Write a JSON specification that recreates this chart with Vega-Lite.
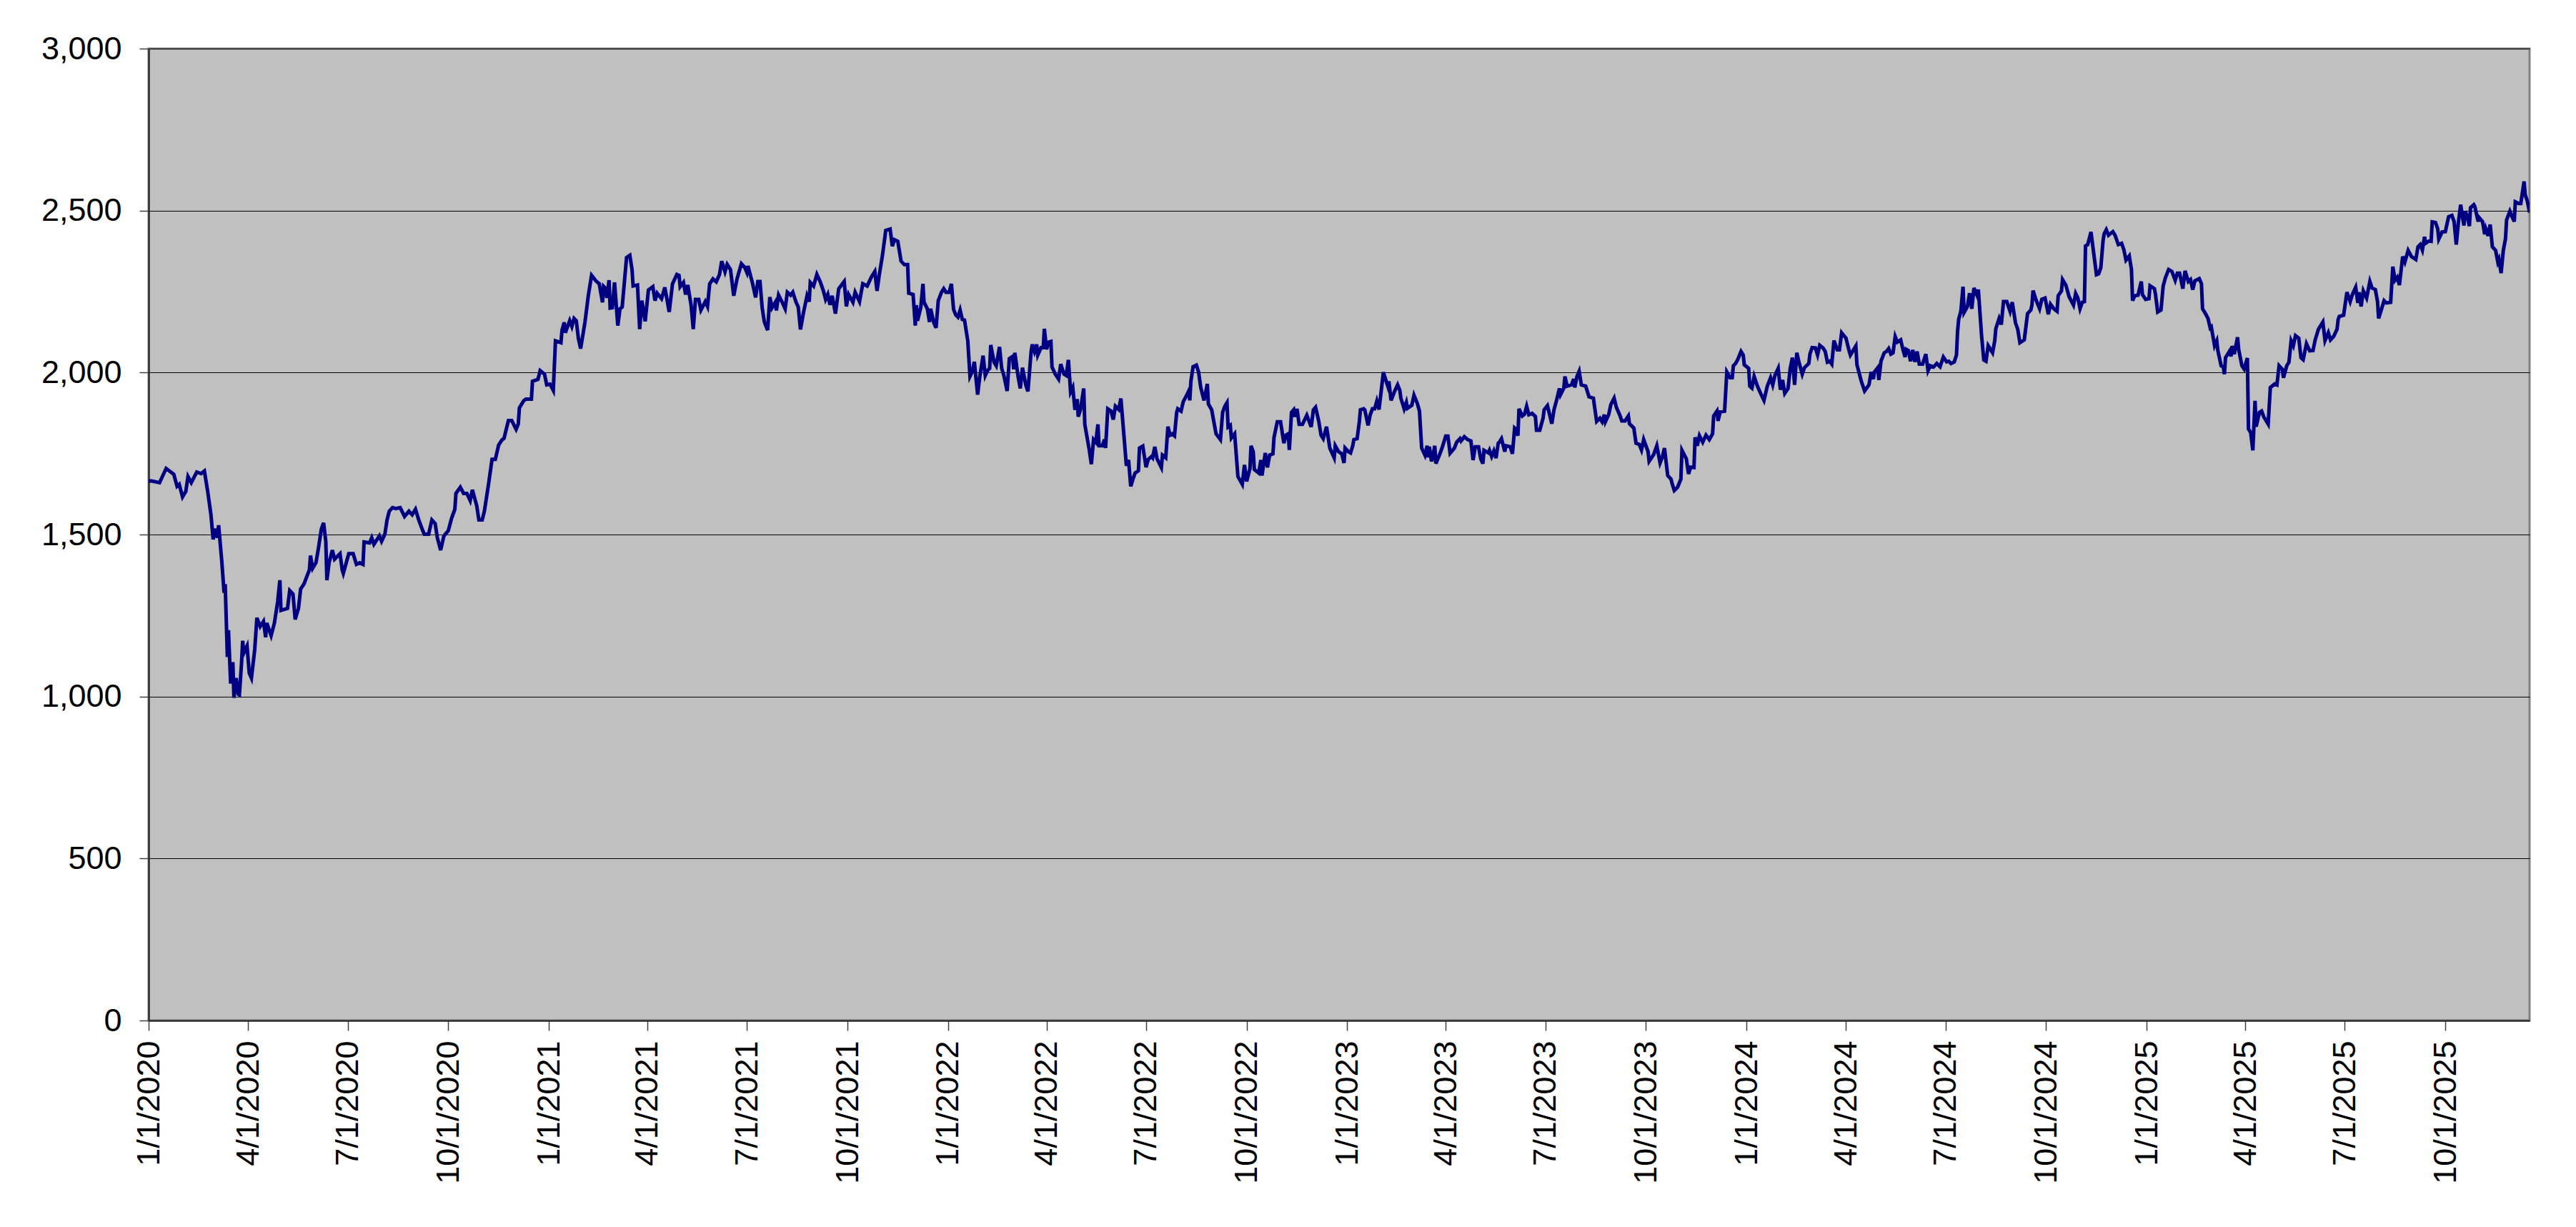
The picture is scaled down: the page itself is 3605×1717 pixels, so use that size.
{
"$schema":"https://vega.github.io/schema/vega-lite/v6.json",
"width":3332,"height":1360,
"autosize":{"type":"none"},
"padding":{"left":208,"top":68,"right":65,"bottom":289},
"background":"#ffffff",
"config":{"view":{"fill":"#C0C0C0","stroke":"#808080","strokeWidth":3},
"axis":{"labelFont":"Liberation Sans","labelFontSize":45,"labelColor":"#000000","labelLimit":0,"tickColor":"#404040","tickWidth":1.5,"domainColor":"#303030","domainWidth":2.5}},
"data":{"values":[
{"d":"2020-01-01","v":1664},{"d":"2020-01-03","v":1666},{"d":"2020-01-11","v":1660},{"d":"2020-01-17","v":1704},{"d":"2020-01-24","v":1686},{"d":"2020-01-27","v":1649},{"d":"2020-01-29","v":1655},{"d":"2020-02-01","v":1616},{"d":"2020-02-04","v":1633},{"d":"2020-02-06","v":1679},{"d":"2020-02-09","v":1660},{"d":"2020-02-14","v":1693},{"d":"2020-02-18","v":1688},{"d":"2020-02-21","v":1696},{"d":"2020-02-24","v":1633},{"d":"2020-02-27","v":1561},{"d":"2020-02-29","v":1485},{"d":"2020-03-02","v":1518},{"d":"2020-03-04","v":1490},{"d":"2020-03-05","v":1529},{"d":"2020-03-08","v":1413},{"d":"2020-03-10","v":1320},{"d":"2020-03-11","v":1347},{"d":"2020-03-13","v":1122},{"d":"2020-03-14","v":1205},{"d":"2020-03-16","v":1040},{"d":"2020-03-18","v":1106},{"d":"2020-03-19","v":996},{"d":"2020-03-21","v":1057},{"d":"2020-03-23","v":1007},{"d":"2020-03-24","v":1005},{"d":"2020-03-26","v":1106},{"d":"2020-03-27","v":1172},{"d":"2020-03-28","v":1134},{"d":"2020-03-31","v":1156},{"d":"2020-04-02","v":1073},{"d":"2020-04-04","v":1057},{"d":"2020-04-07","v":1145},{"d":"2020-04-09","v":1243},{"d":"2020-04-12","v":1216},{"d":"2020-04-15","v":1232},{"d":"2020-04-17","v":1183},{"d":"2020-04-18","v":1227},{"d":"2020-04-22","v":1188},{"d":"2020-04-25","v":1227},{"d":"2020-04-28","v":1293},{"d":"2020-04-30","v":1359},{"d":"2020-05-01","v":1266},{"d":"2020-05-07","v":1272},{"d":"2020-05-09","v":1327},{"d":"2020-05-12","v":1316},{"d":"2020-05-14","v":1238},{"d":"2020-05-17","v":1272},{"d":"2020-05-19","v":1332},{"d":"2020-05-22","v":1347},{"d":"2020-05-27","v":1391},{"d":"2020-05-28","v":1435},{"d":"2020-05-30","v":1396},{"d":"2020-06-02","v":1413},{"d":"2020-06-04","v":1452},{"d":"2020-06-07","v":1518},{"d":"2020-06-09","v":1536},{"d":"2020-06-11","v":1479},{"d":"2020-06-12","v":1359},{"d":"2020-06-14","v":1413},{"d":"2020-06-17","v":1452},{"d":"2020-06-19","v":1424},{"d":"2020-06-24","v":1441},{"d":"2020-06-26","v":1391},{"d":"2020-06-27","v":1380},{"d":"2020-07-02","v":1441},{"d":"2020-07-06","v":1441},{"d":"2020-07-09","v":1408},{"d":"2020-07-12","v":1413},{"d":"2020-07-15","v":1408},{"d":"2020-07-16","v":1477},{"d":"2020-07-21","v":1474},{"d":"2020-07-23","v":1490},{"d":"2020-07-25","v":1470},{"d":"2020-07-30","v":1496},{"d":"2020-08-01","v":1479},{"d":"2020-08-04","v":1501},{"d":"2020-08-06","v":1545},{"d":"2020-08-08","v":1572},{"d":"2020-08-11","v":1583},{"d":"2020-08-14","v":1580},{"d":"2020-08-18","v":1583},{"d":"2020-08-22","v":1556},{"d":"2020-08-26","v":1572},{"d":"2020-08-29","v":1561},{"d":"2020-09-01","v":1578},{"d":"2020-09-04","v":1545},{"d":"2020-09-07","v":1518},{"d":"2020-09-09","v":1501},{"d":"2020-09-13","v":1501},{"d":"2020-09-16","v":1545},{"d":"2020-09-19","v":1534},{"d":"2020-09-21","v":1490},{"d":"2020-09-24","v":1452},{"d":"2020-09-27","v":1496},{"d":"2020-10-01","v":1512},{"d":"2020-10-04","v":1550},{"d":"2020-10-07","v":1578},{"d":"2020-10-08","v":1627},{"d":"2020-10-12","v":1646},{"d":"2020-10-15","v":1627},{"d":"2020-10-18","v":1627},{"d":"2020-10-21","v":1605},{"d":"2020-10-23","v":1638},{"d":"2020-10-27","v":1589},{"d":"2020-10-29","v":1545},{"d":"2020-11-01","v":1545},{"d":"2020-11-03","v":1572},{"d":"2020-11-05","v":1616},{"d":"2020-11-07","v":1660},{"d":"2020-11-10","v":1732},{"d":"2020-11-13","v":1732},{"d":"2020-11-16","v":1776},{"d":"2020-11-19","v":1792},{"d":"2020-11-21","v":1797},{"d":"2020-11-23","v":1825},{"d":"2020-11-25","v":1852},{"d":"2020-11-28","v":1852},{"d":"2020-12-02","v":1825},{"d":"2020-12-04","v":1841},{"d":"2020-12-05","v":1891},{"d":"2020-12-09","v":1913},{"d":"2020-12-11","v":1918},{"d":"2020-12-16","v":1918},{"d":"2020-12-17","v":1973},{"d":"2020-12-22","v":1979},{"d":"2020-12-24","v":2006},{"d":"2020-12-28","v":1995},{"d":"2020-12-30","v":1962},
{"d":"2021-01-02","v":1964},{"d":"2021-01-03","v":1958},{"d":"2021-01-05","v":1945},{"d":"2021-01-07","v":2098},{"d":"2021-01-12","v":2092},{"d":"2021-01-13","v":2131},{"d":"2021-01-15","v":2155},{"d":"2021-01-16","v":2123},{"d":"2021-01-20","v":2160},{"d":"2021-01-22","v":2142},{"d":"2021-01-24","v":2167},{"d":"2021-01-26","v":2160},{"d":"2021-01-28","v":2105},{"d":"2021-01-30","v":2074},{"d":"2021-02-03","v":2156},{"d":"2021-02-06","v":2237},{"d":"2021-02-09","v":2300},{"d":"2021-02-13","v":2283},{"d":"2021-02-16","v":2274},{"d":"2021-02-19","v":2217},{"d":"2021-02-20","v":2266},{"d":"2021-02-22","v":2259},{"d":"2021-02-23","v":2230},{"d":"2021-02-25","v":2285},{"d":"2021-02-26","v":2199},{"d":"2021-02-28","v":2200},{"d":"2021-03-02","v":2278},{"d":"2021-03-05","v":2145},{"d":"2021-03-07","v":2197},{"d":"2021-03-09","v":2202},{"d":"2021-03-13","v":2355},{"d":"2021-03-16","v":2362},{"d":"2021-03-18","v":2318},{"d":"2021-03-19","v":2267},{"d":"2021-03-23","v":2270},{"d":"2021-03-25","v":2134},{"d":"2021-03-27","v":2222},{"d":"2021-03-30","v":2158},{"d":"2021-04-02","v":2255},{"d":"2021-04-06","v":2265},{"d":"2021-04-08","v":2222},{"d":"2021-04-10","v":2245},{"d":"2021-04-14","v":2228},{"d":"2021-04-17","v":2263},{"d":"2021-04-21","v":2187},{"d":"2021-04-24","v":2274},{"d":"2021-04-28","v":2303},{"d":"2021-04-30","v":2300},{"d":"2021-05-01","v":2265},{"d":"2021-05-04","v":2278},{"d":"2021-05-06","v":2241},{"d":"2021-05-08","v":2270},{"d":"2021-05-11","v":2208},{"d":"2021-05-13","v":2134},{"d":"2021-05-15","v":2226},{"d":"2021-05-18","v":2226},{"d":"2021-05-20","v":2193},{"d":"2021-05-24","v":2219},{"d":"2021-05-26","v":2204},{"d":"2021-05-28","v":2274},{"d":"2021-05-31","v":2289},{"d":"2021-06-03","v":2280},{"d":"2021-06-06","v":2303},{"d":"2021-06-08","v":2344},{"d":"2021-06-11","v":2311},{"d":"2021-06-13","v":2334},{"d":"2021-06-16","v":2318},{"d":"2021-06-19","v":2237},{"d":"2021-06-22","v":2289},{"d":"2021-06-26","v":2336},{"d":"2021-06-29","v":2325},{"d":"2021-07-01","v":2309},{"d":"2021-07-02","v":2329},{"d":"2021-07-04","v":2303},{"d":"2021-07-06","v":2278},{"d":"2021-07-09","v":2232},{"d":"2021-07-11","v":2281},{"d":"2021-07-13","v":2281},{"d":"2021-07-15","v":2200},{"d":"2021-07-17","v":2156},{"d":"2021-07-20","v":2131},{"d":"2021-07-22","v":2233},{"d":"2021-07-24","v":2200},{"d":"2021-07-27","v":2217},{"d":"2021-07-28","v":2192},{"d":"2021-07-30","v":2239},{"d":"2021-08-02","v":2219},{"d":"2021-08-05","v":2197},{"d":"2021-08-07","v":2248},{"d":"2021-08-10","v":2239},{"d":"2021-08-12","v":2248},{"d":"2021-08-15","v":2217},{"d":"2021-08-17","v":2202},{"d":"2021-08-19","v":2133},{"d":"2021-08-22","v":2189},{"d":"2021-08-25","v":2237},{"d":"2021-08-27","v":2219},{"d":"2021-08-28","v":2278},{"d":"2021-08-31","v":2267},{"d":"2021-09-03","v":2303},{"d":"2021-09-06","v":2281},{"d":"2021-09-09","v":2252},{"d":"2021-09-11","v":2226},{"d":"2021-09-13","v":2241},{"d":"2021-09-15","v":2209},{"d":"2021-09-17","v":2237},{"d":"2021-09-20","v":2182},{"d":"2021-09-23","v":2259},{"d":"2021-09-28","v":2281},{"d":"2021-09-30","v":2204},{"d":"2021-10-02","v":2241},{"d":"2021-10-06","v":2217},{"d":"2021-10-08","v":2248},{"d":"2021-10-12","v":2219},{"d":"2021-10-15","v":2274},{"d":"2021-10-19","v":2267},{"d":"2021-10-23","v":2296},{"d":"2021-10-26","v":2312},{"d":"2021-10-28","v":2252},{"d":"2021-10-30","v":2300},{"d":"2021-11-02","v":2362},{"d":"2021-11-05","v":2439},{"d":"2021-11-09","v":2443},{"d":"2021-11-11","v":2390},{"d":"2021-11-13","v":2410},{"d":"2021-11-16","v":2405},{"d":"2021-11-19","v":2344},{"d":"2021-11-22","v":2333},{"d":"2021-11-25","v":2333},{"d":"2021-11-26","v":2245},{"d":"2021-11-30","v":2241},{"d":"2021-12-02","v":2145},{"d":"2021-12-03","v":2208},{"d":"2021-12-04","v":2160},{"d":"2021-12-07","v":2200},{"d":"2021-12-09","v":2274},{"d":"2021-12-10","v":2217},{"d":"2021-12-13","v":2197},{"d":"2021-12-15","v":2156},{"d":"2021-12-16","v":2197},{"d":"2021-12-19","v":2153},{"d":"2021-12-21","v":2138},{"d":"2021-12-23","v":2222},{"d":"2021-12-26","v":2248},{"d":"2021-12-28","v":2259},{"d":"2021-12-30","v":2248},
{"d":"2022-01-02","v":2248},{"d":"2022-01-04","v":2274},{"d":"2022-01-06","v":2195},{"d":"2022-01-08","v":2178},{"d":"2022-01-10","v":2171},{"d":"2022-01-12","v":2193},{"d":"2022-01-14","v":2164},{"d":"2022-01-16","v":2162},{"d":"2022-01-19","v":2098},{"d":"2022-01-21","v":1988},{"d":"2022-01-23","v":2002},{"d":"2022-01-25","v":2033},{"d":"2022-01-28","v":1932},{"d":"2022-01-30","v":1988},{"d":"2022-02-02","v":2052},{"d":"2022-02-04","v":1991},{"d":"2022-02-06","v":2006},{"d":"2022-02-08","v":2013},{"d":"2022-02-09","v":2085},{"d":"2022-02-12","v":2032},{"d":"2022-02-14","v":2021},{"d":"2022-02-17","v":2079},{"d":"2022-02-19","v":2013},{"d":"2022-02-21","v":1991},{"d":"2022-02-24","v":1943},{"d":"2022-02-26","v":2043},{"d":"2022-03-01","v":2050},{"d":"2022-03-02","v":2010},{"d":"2022-03-03","v":2061},{"d":"2022-03-06","v":1988},{"d":"2022-03-08","v":1951},{"d":"2022-03-10","v":2015},{"d":"2022-03-13","v":1962},{"d":"2022-03-15","v":1942},{"d":"2022-03-18","v":2068},{"d":"2022-03-19","v":2087},{"d":"2022-03-21","v":2065},{"d":"2022-03-23","v":2087},{"d":"2022-03-24","v":2054},{"d":"2022-03-27","v":2077},{"d":"2022-03-29","v":2077},{"d":"2022-03-30","v":2135},{"d":"2022-04-01","v":2072},{"d":"2022-04-03","v":2094},{"d":"2022-04-05","v":2096},{"d":"2022-04-06","v":2017},{"d":"2022-04-09","v":1995},{"d":"2022-04-12","v":1980},{"d":"2022-04-14","v":2026},{"d":"2022-04-17","v":1995},{"d":"2022-04-19","v":1991},{"d":"2022-04-21","v":2039},{"d":"2022-04-23","v":1940},{"d":"2022-04-25","v":1954},{"d":"2022-04-27","v":1885},{"d":"2022-04-29","v":1918},{"d":"2022-04-30","v":1864},{"d":"2022-05-02","v":1885},{"d":"2022-05-05","v":1951},{"d":"2022-05-06","v":1840},{"d":"2022-05-10","v":1763},{"d":"2022-05-12","v":1717},{"d":"2022-05-14","v":1793},{"d":"2022-05-16","v":1785},{"d":"2022-05-18","v":1840},{"d":"2022-05-19","v":1774},{"d":"2022-05-22","v":1774},{"d":"2022-05-24","v":1793},{"d":"2022-05-25","v":1767},{"d":"2022-05-27","v":1888},{"d":"2022-05-30","v":1881},{"d":"2022-06-01","v":1855},{"d":"2022-06-03","v":1896},{"d":"2022-06-06","v":1886},{"d":"2022-06-08","v":1920},{"d":"2022-06-11","v":1796},{"d":"2022-06-13","v":1712},{"d":"2022-06-15","v":1730},{"d":"2022-06-17","v":1649},{"d":"2022-06-19","v":1671},{"d":"2022-06-21","v":1690},{"d":"2022-06-24","v":1697},{"d":"2022-06-25","v":1767},{"d":"2022-06-28","v":1773},{"d":"2022-07-01","v":1708},{"d":"2022-07-03","v":1732},{"d":"2022-07-06","v":1741},{"d":"2022-07-07","v":1737},{"d":"2022-07-09","v":1771},{"d":"2022-07-11","v":1734},{"d":"2022-07-15","v":1707},{"d":"2022-07-16","v":1745},{"d":"2022-07-19","v":1737},{"d":"2022-07-21","v":1833},{"d":"2022-07-23","v":1807},{"d":"2022-07-25","v":1811},{"d":"2022-07-27","v":1805},{"d":"2022-07-29","v":1877},{"d":"2022-07-30","v":1888},{"d":"2022-08-02","v":1881},{"d":"2022-08-04","v":1910},{"d":"2022-08-07","v":1929},{"d":"2022-08-09","v":1943},{"d":"2022-08-10","v":1914},{"d":"2022-08-11","v":1973},{"d":"2022-08-13","v":2018},{"d":"2022-08-16","v":2023},{"d":"2022-08-18","v":2002},{"d":"2022-08-20","v":1954},{"d":"2022-08-23","v":1914},{"d":"2022-08-24","v":1930},{"d":"2022-08-26","v":1965},{"d":"2022-08-27","v":1903},{"d":"2022-08-30","v":1885},{"d":"2022-09-01","v":1848},{"d":"2022-09-03","v":1811},{"d":"2022-09-07","v":1793},{"d":"2022-09-09","v":1877},{"d":"2022-09-11","v":1896},{"d":"2022-09-13","v":1907},{"d":"2022-09-14","v":1832},{"d":"2022-09-16","v":1837},{"d":"2022-09-17","v":1798},{"d":"2022-09-20","v":1811},{"d":"2022-09-23","v":1679},{"d":"2022-09-27","v":1655},{"d":"2022-09-29","v":1715},{"d":"2022-10-01","v":1664},{"d":"2022-10-04","v":1704},{"d":"2022-10-05","v":1774},{"d":"2022-10-07","v":1756},{"d":"2022-10-08","v":1701},{"d":"2022-10-12","v":1690},{"d":"2022-10-14","v":1730},{"d":"2022-10-15","v":1682},{"d":"2022-10-18","v":1752},{"d":"2022-10-20","v":1707},{"d":"2022-10-22","v":1745},{"d":"2022-10-25","v":1749},{"d":"2022-10-26","v":1800},{"d":"2022-10-29","v":1848},{"d":"2022-11-01","v":1848},{"d":"2022-11-04","v":1782},{"d":"2022-11-06","v":1807},{"d":"2022-11-08","v":1811},{"d":"2022-11-09","v":1761},{"d":"2022-11-11","v":1877},{"d":"2022-11-13","v":1885},{"d":"2022-11-14","v":1864},{"d":"2022-11-16","v":1888},{"d":"2022-11-18","v":1840},{"d":"2022-11-21","v":1840},{"d":"2022-11-25","v":1868},{"d":"2022-11-29","v":1832},{"d":"2022-12-01","v":1885},{"d":"2022-12-03","v":1893},{"d":"2022-12-06","v":1848},{"d":"2022-12-08","v":1807},{"d":"2022-12-10","v":1796},{"d":"2022-12-13","v":1833},{"d":"2022-12-16","v":1767},{"d":"2022-12-20","v":1737},{"d":"2022-12-21","v":1774},{"d":"2022-12-24","v":1756},{"d":"2022-12-27","v":1749},{"d":"2022-12-29","v":1721},{"d":"2022-12-30","v":1767},
{"d":"2023-01-02","v":1756},{"d":"2023-01-04","v":1752},{"d":"2023-01-06","v":1774},{"d":"2023-01-07","v":1793},{"d":"2023-01-10","v":1796},{"d":"2023-01-12","v":1848},{"d":"2023-01-13","v":1885},{"d":"2023-01-16","v":1888},{"d":"2023-01-17","v":1885},{"d":"2023-01-20","v":1837},{"d":"2023-01-22","v":1870},{"d":"2023-01-24","v":1888},{"d":"2023-01-26","v":1888},{"d":"2023-01-28","v":1912},{"d":"2023-01-30","v":1886},{"d":"2023-02-01","v":1943},{"d":"2023-02-03","v":2001},{"d":"2023-02-05","v":1979},{"d":"2023-02-07","v":1958},{"d":"2023-02-08","v":1973},{"d":"2023-02-10","v":1914},{"d":"2023-02-13","v":1940},{"d":"2023-02-16","v":1962},{"d":"2023-02-18","v":1945},{"d":"2023-02-19","v":1921},{"d":"2023-02-22","v":1888},{"d":"2023-02-24","v":1908},{"d":"2023-02-25","v":1890},{"d":"2023-03-01","v":1899},{"d":"2023-03-03","v":1930},{"d":"2023-03-06","v":1905},{"d":"2023-03-08","v":1881},{"d":"2023-03-10","v":1767},{"d":"2023-03-13","v":1745},{"d":"2023-03-15","v":1774},{"d":"2023-03-16","v":1738},{"d":"2023-03-17","v":1771},{"d":"2023-03-19","v":1726},{"d":"2023-03-20","v":1738},{"d":"2023-03-22","v":1774},{"d":"2023-03-23","v":1719},{"d":"2023-03-27","v":1752},{"d":"2023-03-29","v":1771},{"d":"2023-04-01","v":1804},{"d":"2023-04-03","v":1804},{"d":"2023-04-05","v":1751},{"d":"2023-04-09","v":1767},{"d":"2023-04-11","v":1785},{"d":"2023-04-14","v":1796},{"d":"2023-04-15","v":1789},{"d":"2023-04-18","v":1802},{"d":"2023-04-21","v":1793},{"d":"2023-04-24","v":1789},{"d":"2023-04-26","v":1730},{"d":"2023-04-28","v":1771},{"d":"2023-05-01","v":1771},{"d":"2023-05-03","v":1734},{"d":"2023-05-05","v":1719},{"d":"2023-05-06","v":1760},{"d":"2023-05-10","v":1752},{"d":"2023-05-11","v":1760},{"d":"2023-05-13","v":1741},{"d":"2023-05-15","v":1758},{"d":"2023-05-17","v":1736},{"d":"2023-05-19","v":1782},{"d":"2023-05-20","v":1785},{"d":"2023-05-22","v":1796},{"d":"2023-05-25","v":1756},{"d":"2023-05-26","v":1774},{"d":"2023-05-30","v":1771},{"d":"2023-06-01","v":1749},{"d":"2023-06-03","v":1829},{"d":"2023-06-04","v":1826},{"d":"2023-06-06","v":1805},{"d":"2023-06-07","v":1888},{"d":"2023-06-10","v":1866},{"d":"2023-06-12","v":1871},{"d":"2023-06-14","v":1896},{"d":"2023-06-16","v":1870},{"d":"2023-06-19","v":1874},{"d":"2023-06-22","v":1864},{"d":"2023-06-23","v":1822},{"d":"2023-06-26","v":1822},{"d":"2023-06-29","v":1859},{"d":"2023-06-30","v":1885},{"d":"2023-07-03","v":1898},{"d":"2023-07-07","v":1842},{"d":"2023-07-09","v":1885},{"d":"2023-07-11","v":1910},{"d":"2023-07-14","v":1951},{"d":"2023-07-15","v":1932},{"d":"2023-07-18","v":1952},{"d":"2023-07-19","v":1988},{"d":"2023-07-21","v":1958},{"d":"2023-07-25","v":1962},{"d":"2023-07-27","v":1980},{"d":"2023-07-28","v":1954},{"d":"2023-07-30","v":1988},{"d":"2023-08-01","v":2004},{"d":"2023-08-03","v":1962},{"d":"2023-08-07","v":1958},{"d":"2023-08-10","v":1925},{"d":"2023-08-14","v":1921},{"d":"2023-08-17","v":1849},{"d":"2023-08-20","v":1859},{"d":"2023-08-22","v":1848},{"d":"2023-08-24","v":1870},{"d":"2023-08-25","v":1848},{"d":"2023-08-28","v":1870},{"d":"2023-08-30","v":1901},{"d":"2023-09-02","v":1921},{"d":"2023-09-04","v":1893},{"d":"2023-09-07","v":1870},{"d":"2023-09-09","v":1851},{"d":"2023-09-12","v":1851},{"d":"2023-09-15","v":1866},{"d":"2023-09-16","v":1842},{"d":"2023-09-20","v":1829},{"d":"2023-09-22","v":1782},{"d":"2023-09-25","v":1778},{"d":"2023-09-27","v":1761},{"d":"2023-09-29","v":1793},{"d":"2023-10-03","v":1756},{"d":"2023-10-04","v":1726},{"d":"2023-10-08","v":1746},{"d":"2023-10-11","v":1774},{"d":"2023-10-14","v":1721},{"d":"2023-10-16","v":1738},{"d":"2023-10-18","v":1767},{"d":"2023-10-21","v":1682},{"d":"2023-10-24","v":1671},{"d":"2023-10-25","v":1657},{"d":"2023-10-27","v":1636},{"d":"2023-10-30","v":1646},{"d":"2023-11-02","v":1671},{"d":"2023-11-03","v":1760},{"d":"2023-11-07","v":1734},{"d":"2023-11-09","v":1687},{"d":"2023-11-11","v":1708},{"d":"2023-11-14","v":1707},{"d":"2023-11-15","v":1800},{"d":"2023-11-17","v":1774},{"d":"2023-11-19","v":1805},{"d":"2023-11-22","v":1785},{"d":"2023-11-25","v":1807},{"d":"2023-11-28","v":1793},{"d":"2023-12-01","v":1811},{"d":"2023-12-02","v":1866},{"d":"2023-12-05","v":1881},{"d":"2023-12-06","v":1851},{"d":"2023-12-08","v":1879},{"d":"2023-12-12","v":1881},{"d":"2023-12-14","v":2002},{"d":"2023-12-17","v":1984},{"d":"2023-12-19","v":1984},{"d":"2023-12-20","v":2021},{"d":"2023-12-22","v":2028},{"d":"2023-12-24","v":2040},{"d":"2023-12-27","v":2065},{"d":"2023-12-29","v":2054},{"d":"2023-12-30","v":2024},
{"d":"2024-01-03","v":2013},{"d":"2024-01-04","v":1958},{"d":"2024-01-06","v":1952},{"d":"2024-01-08","v":1988},{"d":"2024-01-11","v":1958},{"d":"2024-01-14","v":1935},{"d":"2024-01-17","v":1914},{"d":"2024-01-20","v":1958},{"d":"2024-01-23","v":1984},{"d":"2024-01-25","v":1962},{"d":"2024-01-27","v":1991},{"d":"2024-01-30","v":2013},{"d":"2024-02-01","v":1947},{"d":"2024-02-03","v":1977},{"d":"2024-02-05","v":1936},{"d":"2024-02-08","v":1951},{"d":"2024-02-10","v":2013},{"d":"2024-02-12","v":2046},{"d":"2024-02-14","v":1962},{"d":"2024-02-16","v":2061},{"d":"2024-02-18","v":2032},{"d":"2024-02-21","v":1995},{"d":"2024-02-23","v":2015},{"d":"2024-02-27","v":2028},{"d":"2024-02-28","v":2057},{"d":"2024-03-01","v":2077},{"d":"2024-03-04","v":2076},{"d":"2024-03-06","v":2054},{"d":"2024-03-08","v":2084},{"d":"2024-03-11","v":2076},{"d":"2024-03-13","v":2065},{"d":"2024-03-15","v":2032},{"d":"2024-03-17","v":2035},{"d":"2024-03-19","v":2026},{"d":"2024-03-21","v":2099},{"d":"2024-03-24","v":2070},{"d":"2024-03-26","v":2070},{"d":"2024-03-28","v":2123},{"d":"2024-04-01","v":2106},{"d":"2024-04-04","v":2065},{"d":"2024-04-05","v":2054},{"d":"2024-04-10","v":2082},{"d":"2024-04-11","v":2024},{"d":"2024-04-13","v":1999},{"d":"2024-04-15","v":1973},{"d":"2024-04-18","v":1943},{"d":"2024-04-22","v":1962},{"d":"2024-04-24","v":2002},{"d":"2024-04-26","v":1980},{"d":"2024-04-27","v":2002},{"d":"2024-04-30","v":2015},{"d":"2024-05-01","v":1977},{"d":"2024-05-03","v":2035},{"d":"2024-05-06","v":2061},{"d":"2024-05-08","v":2065},{"d":"2024-05-10","v":2074},{"d":"2024-05-12","v":2057},{"d":"2024-05-14","v":2061},{"d":"2024-05-16","v":2111},{"d":"2024-05-18","v":2094},{"d":"2024-05-21","v":2101},{"d":"2024-05-23","v":2072},{"d":"2024-05-25","v":2048},{"d":"2024-05-26","v":2072},{"d":"2024-05-28","v":2068},{"d":"2024-05-30","v":2035},{"d":"2024-06-01","v":2070},{"d":"2024-06-03","v":2033},{"d":"2024-06-05","v":2065},{"d":"2024-06-07","v":2026},{"d":"2024-06-10","v":2026},{"d":"2024-06-13","v":2057},{"d":"2024-06-15","v":2006},{"d":"2024-06-17","v":2021},{"d":"2024-06-20","v":2017},{"d":"2024-06-23","v":2028},{"d":"2024-06-26","v":2018},{"d":"2024-06-29","v":2048},{"d":"2024-07-02","v":2033},{"d":"2024-07-04","v":2035},{"d":"2024-07-06","v":2028},{"d":"2024-07-09","v":2033},{"d":"2024-07-11","v":2054},{"d":"2024-07-12","v":2127},{"d":"2024-07-13","v":2164},{"d":"2024-07-15","v":2189},{"d":"2024-07-17","v":2265},{"d":"2024-07-18","v":2186},{"d":"2024-07-21","v":2204},{"d":"2024-07-23","v":2245},{"d":"2024-07-25","v":2197},{"d":"2024-07-27","v":2261},{"d":"2024-07-30","v":2237},{"d":"2024-07-31","v":2256},{"d":"2024-08-03","v":2112},{"d":"2024-08-05","v":2039},{"d":"2024-08-07","v":2035},{"d":"2024-08-09","v":2083},{"d":"2024-08-13","v":2061},{"d":"2024-08-15","v":2098},{"d":"2024-08-16","v":2136},{"d":"2024-08-19","v":2167},{"d":"2024-08-21","v":2148},{"d":"2024-08-23","v":2219},{"d":"2024-08-26","v":2219},{"d":"2024-08-29","v":2189},{"d":"2024-08-31","v":2217},{"d":"2024-09-03","v":2153},{"d":"2024-09-05","v":2134},{"d":"2024-09-07","v":2092},{"d":"2024-09-11","v":2101},{"d":"2024-09-14","v":2182},{"d":"2024-09-17","v":2193},{"d":"2024-09-18","v":2208},{"d":"2024-09-19","v":2253},{"d":"2024-09-22","v":2222},{"d":"2024-09-25","v":2197},{"d":"2024-09-27","v":2226},{"d":"2024-09-30","v":2230},{"d":"2024-10-02","v":2197},{"d":"2024-10-03","v":2180},{"d":"2024-10-05","v":2211},{"d":"2024-10-08","v":2197},{"d":"2024-10-11","v":2189},{"d":"2024-10-12","v":2237},{"d":"2024-10-15","v":2252},{"d":"2024-10-16","v":2287},{"d":"2024-10-19","v":2270},{"d":"2024-10-22","v":2234},{"d":"2024-10-26","v":2208},{"d":"2024-10-28","v":2244},{"d":"2024-10-30","v":2230},{"d":"2024-11-01","v":2197},{"d":"2024-11-03","v":2217},{"d":"2024-11-05","v":2219},{"d":"2024-11-06","v":2391},{"d":"2024-11-08","v":2395},{"d":"2024-11-11","v":2434},{"d":"2024-11-14","v":2355},{"d":"2024-11-16","v":2302},{"d":"2024-11-18","v":2305},{"d":"2024-11-20","v":2324},{"d":"2024-11-22","v":2406},{"d":"2024-11-23","v":2428},{"d":"2024-11-25","v":2441},{"d":"2024-11-27","v":2424},{"d":"2024-12-01","v":2435},{"d":"2024-12-03","v":2424},{"d":"2024-12-06","v":2395},{"d":"2024-12-09","v":2399},{"d":"2024-12-11","v":2380},{"d":"2024-12-13","v":2347},{"d":"2024-12-16","v":2360},{"d":"2024-12-18","v":2318},{"d":"2024-12-19","v":2222},{"d":"2024-12-21","v":2237},{"d":"2024-12-24","v":2239},{"d":"2024-12-27","v":2281},{"d":"2024-12-28","v":2241},{"d":"2024-12-31","v":2226},
{"d":"2025-01-03","v":2228},{"d":"2025-01-04","v":2268},{"d":"2025-01-08","v":2259},{"d":"2025-01-09","v":2241},{"d":"2025-01-11","v":2187},{"d":"2025-01-14","v":2193},{"d":"2025-01-16","v":2267},{"d":"2025-01-18","v":2292},{"d":"2025-01-21","v":2318},{"d":"2025-01-24","v":2312},{"d":"2025-01-27","v":2285},{"d":"2025-01-29","v":2307},{"d":"2025-01-31","v":2307},{"d":"2025-02-03","v":2259},{"d":"2025-02-05","v":2314},{"d":"2025-02-08","v":2281},{"d":"2025-02-10","v":2287},{"d":"2025-02-12","v":2256},{"d":"2025-02-14","v":2283},{"d":"2025-02-18","v":2290},{"d":"2025-02-20","v":2274},{"d":"2025-02-21","v":2197},{"d":"2025-02-24","v":2180},{"d":"2025-02-26","v":2167},{"d":"2025-02-28","v":2138},{"d":"2025-03-01","v":2141},{"d":"2025-03-04","v":2083},{"d":"2025-03-06","v":2098},{"d":"2025-03-07","v":2068},{"d":"2025-03-10","v":2021},{"d":"2025-03-12","v":2017},{"d":"2025-03-13","v":1995},{"d":"2025-03-14","v":2046},{"d":"2025-03-18","v":2068},{"d":"2025-03-19","v":2050},{"d":"2025-03-20","v":2082},{"d":"2025-03-22","v":2057},{"d":"2025-03-25","v":2109},{"d":"2025-03-26","v":2072},{"d":"2025-03-29","v":2021},{"d":"2025-03-31","v":2011},{"d":"2025-04-03","v":2045},{"d":"2025-04-04","v":1826},{"d":"2025-04-06","v":1815},{"d":"2025-04-08","v":1760},{"d":"2025-04-10","v":1913},{"d":"2025-04-11","v":1833},{"d":"2025-04-14","v":1877},{"d":"2025-04-16","v":1881},{"d":"2025-04-18","v":1863},{"d":"2025-04-22","v":1841},{"d":"2025-04-24","v":1954},{"d":"2025-04-28","v":1965},{"d":"2025-04-30","v":1962},{"d":"2025-05-02","v":2021},{"d":"2025-05-05","v":2010},{"d":"2025-05-06","v":1984},{"d":"2025-05-09","v":2021},{"d":"2025-05-11","v":2032},{"d":"2025-05-13","v":2098},{"d":"2025-05-15","v":2083},{"d":"2025-05-17","v":2114},{"d":"2025-05-20","v":2106},{"d":"2025-05-22","v":2046},{"d":"2025-05-24","v":2040},{"d":"2025-05-27","v":2089},{"d":"2025-05-30","v":2067},{"d":"2025-06-02","v":2068},{"d":"2025-06-04","v":2101},{"d":"2025-06-07","v":2134},{"d":"2025-06-11","v":2156},{"d":"2025-06-13","v":2099},{"d":"2025-06-16","v":2123},{"d":"2025-06-18","v":2101},{"d":"2025-06-21","v":2112},{"d":"2025-06-24","v":2134},{"d":"2025-06-25","v":2164},{"d":"2025-06-26","v":2173},{"d":"2025-06-30","v":2177},{"d":"2025-07-03","v":2248},{"d":"2025-07-06","v":2219},{"d":"2025-07-08","v":2241},{"d":"2025-07-11","v":2263},{"d":"2025-07-13","v":2215},{"d":"2025-07-14","v":2248},{"d":"2025-07-16","v":2204},{"d":"2025-07-18","v":2252},{"d":"2025-07-21","v":2230},{"d":"2025-07-24","v":2281},{"d":"2025-07-26","v":2261},{"d":"2025-07-29","v":2256},{"d":"2025-07-31","v":2219},{"d":"2025-08-01","v":2167},{"d":"2025-08-04","v":2200},{"d":"2025-08-06","v":2222},{"d":"2025-08-08","v":2215},{"d":"2025-08-12","v":2217},{"d":"2025-08-14","v":2327},{"d":"2025-08-16","v":2285},{"d":"2025-08-18","v":2294},{"d":"2025-08-20","v":2270},{"d":"2025-08-23","v":2358},{"d":"2025-08-25","v":2341},{"d":"2025-08-28","v":2377},{"d":"2025-08-31","v":2358},{"d":"2025-09-04","v":2349},{"d":"2025-09-06","v":2388},{"d":"2025-09-08","v":2395},{"d":"2025-09-10","v":2378},{"d":"2025-09-12","v":2419},{"d":"2025-09-13","v":2399},{"d":"2025-09-16","v":2406},{"d":"2025-09-18","v":2405},{"d":"2025-09-19","v":2465},{"d":"2025-09-22","v":2463},{"d":"2025-09-24","v":2444},{"d":"2025-09-25","v":2412},{"d":"2025-09-28","v":2434},{"d":"2025-10-01","v":2435},{"d":"2025-10-04","v":2481},{"d":"2025-10-07","v":2485},{"d":"2025-10-09","v":2466},{"d":"2025-10-11","v":2395},{"d":"2025-10-13","v":2465},{"d":"2025-10-15","v":2518},{"d":"2025-10-18","v":2454},{"d":"2025-10-19","v":2498},{"d":"2025-10-21","v":2483},{"d":"2025-10-23","v":2452},{"d":"2025-10-24","v":2509},{"d":"2025-10-27","v":2518},{"d":"2025-10-28","v":2512},{"d":"2025-10-31","v":2466},{"d":"2025-11-01","v":2478},{"d":"2025-11-04","v":2466},{"d":"2025-11-06","v":2427},{"d":"2025-11-07","v":2443},{"d":"2025-11-09","v":2422},{"d":"2025-11-11","v":2457},{"d":"2025-11-13","v":2388},{"d":"2025-11-16","v":2377},{"d":"2025-11-18","v":2341},{"d":"2025-11-19","v":2349},{"d":"2025-11-21","v":2307},{"d":"2025-11-23","v":2377},{"d":"2025-11-25","v":2413},{"d":"2025-11-26","v":2471},{"d":"2025-11-29","v":2498},{"d":"2025-12-01","v":2481},{"d":"2025-12-03","v":2466},{"d":"2025-12-04","v":2527},{"d":"2025-12-07","v":2522},{"d":"2025-12-09","v":2522},{"d":"2025-12-12","v":2590},{"d":"2025-12-13","v":2549},{"d":"2025-12-15","v":2529},{"d":"2025-12-17","v":2494}
]},
"mark":{"type":"line","color":"#000080","strokeWidth":5,"clip":true},
"encoding":{
"x":{"field":"d","type":"temporal","title":null,
"scale":{"type":"utc","domain":[{"year":2020,"month":1,"date":1,"utc":true},{"year":2025,"month":12,"date":17,"utc":true}],"nice":false},
"axis":{"labelExpr":"utcFormat(datum.value, '%-m/%-d/%Y')","tickCount":{"interval":"month","step":3},"labelAngle":-90,"labelAlign":"right","labelBaseline":"middle","tickSize":14,"labelPadding":14,"grid":false,"labelOverlap":false,"labelFlush":false,"labelLimit":0,"title":null}},
"y":{"field":"v","type":"quantitative","title":null,
"scale":{"domain":[0,3000],"nice":false,"zero":true},
"axis":{"values":[0,500,1000,1500,2000,2500,3000],"labelExpr":"format(datum.value, ',')","tickSize":13,"labelPadding":25,"grid":true,"gridColor":"#000000","gridWidth":1.2,"gridOpacity":1,"title":null}}
}
}
